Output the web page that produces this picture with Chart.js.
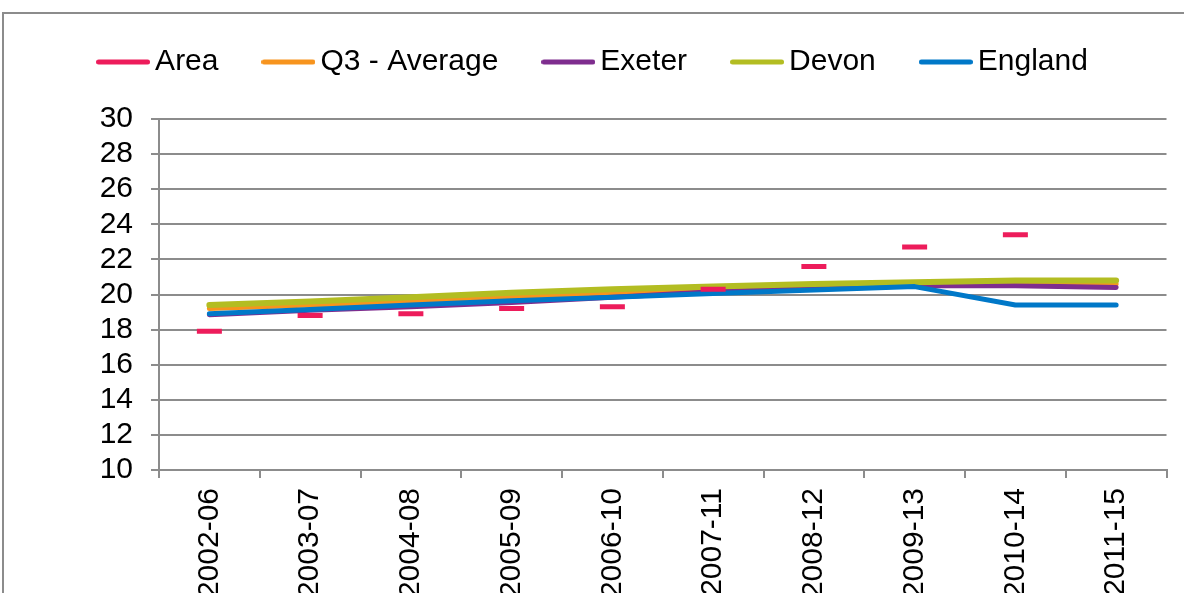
<!DOCTYPE html>
<html>
<head>
<meta charset="utf-8">
<script src="https://cdn.jsdelivr.net/npm/chart.js@4.4.1/dist/chart.umd.min.js"></script>
<style>
  html, body { margin: 0; padding: 0; background: #fff; overflow: hidden; }
  #wrap { position: relative; width: 1184px; height: 593px; }
  #frame { position: absolute; left: 2px; top: 12px; width: 1300px; height: 700px; border: 2px solid #8c8c8c; box-sizing: border-box; }
  #chart { position: absolute; left: 0; top: 0; }
</style>
</head>
<body>
<div id="wrap">
  <div id="frame"></div>
  <canvas id="chart" width="1184" height="593"></canvas>
</div>
<script>
// Data
const categories = ['2002-06', '2003-07', '2004-08', '2005-09', '2006-10', '2007-11', '2008-12', '2009-13', '2010-14', '2011-15'];
const area = [17.9, 18.8, 18.9, 19.2, 19.3, 20.3, 21.6, 22.7, 23.4, null];
const q3Average = [19.2, 19.4, 19.6, 19.85, 20.05, 20.2, 20.3, 20.5, 20.6, 20.6];
const exeter = [18.85, 19.1, 19.3, 19.55, 19.85, 20.15, 20.35, 20.5, 20.5, 20.4];
const devon = [19.4, 19.6, 19.85, 20.1, 20.3, 20.45, 20.6, 20.7, 20.8, 20.8];
const england = [18.9, 19.15, 19.4, 19.65, 19.85, 20.05, 20.25, 20.45, 19.4, 19.4];
const yMin = 10;
const yMax = 30;
const yStep = 2;

document.addEventListener('DOMContentLoaded', function() {
    const gridGrey = '#8c8c8c';
    const fontFamily = '"Liberation Sans", Arial, sans-serif';

    function lineSet(label, data, color, width, order) {
        return {
            label: label,
            data: data,
            borderColor: color,
            backgroundColor: color,
            borderWidth: width,
            borderCapStyle: 'round',
            borderJoinStyle: 'round',
            pointRadius: 0,
            pointHoverRadius: 0,
            pointBorderColor: color,
            pointBorderWidth: 5,
            tension: 0,
            order: order
        };
    }

    // legend marker: a short thick line with round ends
    function legendMarker(color) {
        const c = document.createElement('canvas');
        c.width = 54;
        c.height = 6;
        const ctx = c.getContext('2d');
        ctx.strokeStyle = color;
        ctx.lineWidth = 5;
        ctx.lineCap = 'round';
        ctx.beginPath();
        ctx.moveTo(2.5, 3);
        ctx.lineTo(51.5, 3);
        ctx.stroke();
        return c;
    }

    // push the plot down below the legend, like the original
    const legendSpacer = {
        id: 'legendSpacer',
        afterInit(chart) {
            const legend = chart.legend;
            const fit = legend.fit;
            legend.fit = function() {
                fit.call(this);
                this.height += 32;
            };
        }
    };

    new Chart(document.getElementById('chart'), {
        type: 'line',
        data: {
            labels: categories,
            datasets: [
                {
                    label: 'Area',
                    data: area,
                    borderColor: '#ed1c5b',
                    backgroundColor: '#ed1c5b',
                    showLine: false,
                    pointStyle: 'line',
                    pointRadius: 12.5,
                    pointHoverRadius: 12.5,
                    pointBorderColor: '#ed1c5b',
                    pointBorderWidth: 5,
                    order: 0
                },
                lineSet('Q3 - Average', q3Average, '#f7941e', 5, 4),
                lineSet('Exeter', exeter, '#7e2d8e', 5, 3),
                lineSet('Devon', devon, '#b3bd22', 6, 2),
                lineSet('England', england, '#0078c8', 5, 1)
            ]
        },
        options: {
            responsive: false,
            animation: false,
            layout: {
                padding: { top: -6, left: 23, right: 13, bottom: 0 }
            },
            plugins: {
                legend: {
                    position: 'top',
                    labels: {
                        usePointStyle: true,
                        pointStyleWidth: 34,
                        padding: 53,
                        color: '#000',
                        font: { family: fontFamily, size: 30 },
                        sort: (a, b) => a.datasetIndex - b.datasetIndex,
                        generateLabels: function(chart) {
                            const items = Chart.defaults.plugins.legend.labels.generateLabels(chart);
                            return items.map(function(item) {
                                const ds = chart.data.datasets[item.datasetIndex];
                                item.pointStyle = legendMarker(ds.borderColor);
                                return item;
                            });
                        }
                    }
                },
                tooltip: { enabled: false }
            },
            scales: {
                x: {
                    offset: true,
                    grid: {
                        offset: true,
                        drawOnChartArea: false,
                        drawTicks: true,
                        tickLength: 8,
                        color: gridGrey,
                        lineWidth: 2
                    },
                    border: { color: gridGrey, width: 2 },
                    ticks: {
                        autoSkip: false,
                        minRotation: 90,
                        maxRotation: 90,
                        padding: 10,
                        color: '#000',
                        font: { family: fontFamily, size: 30 }
                    },
                    afterFit: function(scale) {
                        scale.height = 123;
                    }
                },
                y: {
                    min: yMin,
                    max: yMax,
                    grid: {
                        color: gridGrey,
                        lineWidth: 2,
                        tickLength: 8
                    },
                    border: { color: gridGrey, width: 2 },
                    ticks: {
                        stepSize: yStep,
                        autoSkip: false,
                        padding: 18,
                        color: '#000',
                        font: { family: fontFamily, size: 30 }
                    },
                    afterFit: function(scale) {
                        scale.width = 136;
                    }
                }
            }
        },
        plugins: [legendSpacer]
    });
});
</script>
</body>
</html>
